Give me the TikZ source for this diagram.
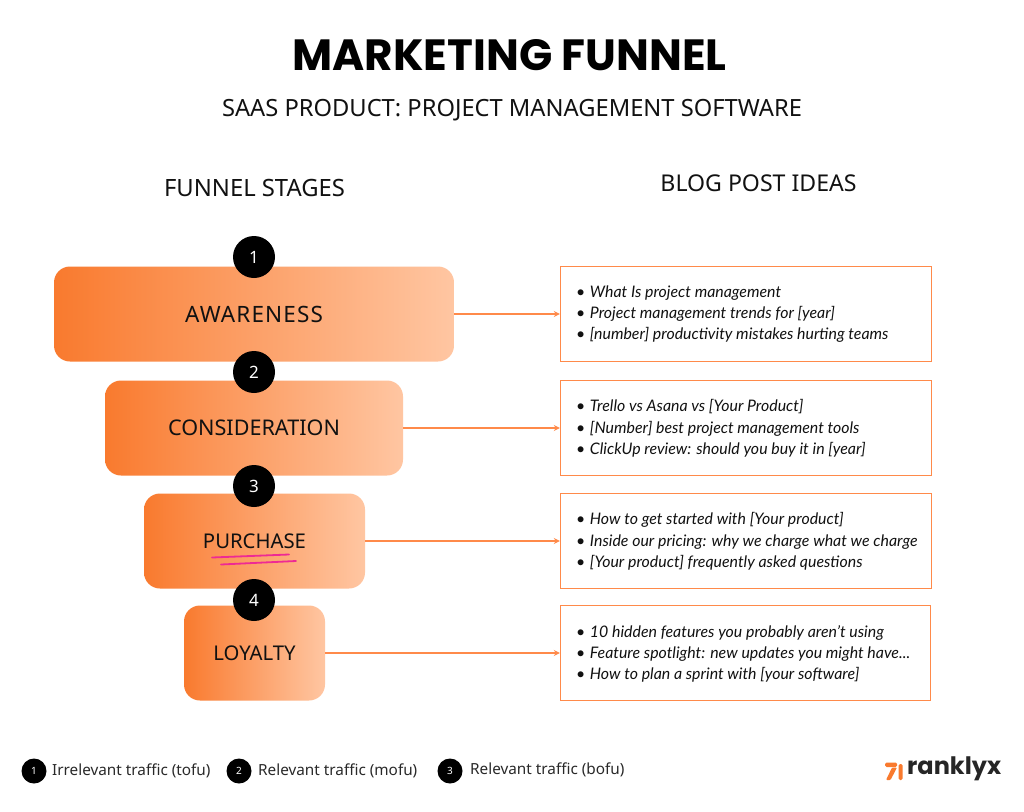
\documentclass[tikz,border=0pt]{standalone}
\usepackage{fontspec}
\setmainfont{Open Sans}
\newfontfamily\titlefont{Poppins}
\newfontfamily\labelfont{Noto Sans}
\newfontfamily\ideafont{Lato}
\usetikzlibrary{arrows.meta}
\definecolor{orA}{HTML}{F97A2E}
\definecolor{orB}{HTML}{FFC6A2}
\definecolor{orL}{HTML}{FF8A4A}
\definecolor{inkk}{HTML}{111111}
\definecolor{pinkk}{HTML}{EE2A94}
\tikzset{
 x=1pt,y=-1pt,
 stage/.style={rounded corners=16pt,left color=orA,right color=orB,draw=none,anchor=center,inner sep=0pt,
   font=\labelfont\fontsize{20.3}{25}\selectfont,text=inkk},
 numc/.style={circle,fill=black,text=white,minimum size=42pt,inner sep=0pt,font=\labelfont\fontsize{17}{20}\selectfont},
 legc/.style={circle,fill=black,text=white,minimum size=25pt,inner sep=0pt,font=\labelfont\fontsize{10}{12}\selectfont},
 legt/.style={anchor=west,inner sep=0pt,font=\labelfont\fontsize{15.3}{18}\selectfont,text=inkk!90},
 idea/.style={draw=orL,line width=1.4pt,fill=white,minimum height=95pt,minimum width=371pt,anchor=center,inner sep=0pt},
 ideat/.style={anchor=west,inner sep=0pt,align=left,font=\ideafont\itshape\fontsize{15.9}{21.3}\selectfont,text=inkk},
 head/.style={inner sep=0pt,font=\labelfont\fontsize{23.8}{28}\selectfont,text=inkk},
 link/.style={draw=orL,line width=1.5pt,-{Stealth[length=6pt,width=6pt]}},
}
\newcommand{\itm}[1]{\textbullet\hspace{4.5pt}#1}
\begin{document}
\begin{tikzpicture}
\useasboundingbox (0,0) rectangle (1024,811);
\fill[white] (0,0) rectangle (1024,811);
\node[inner sep=0pt,font=\titlefont\bfseries\fontsize{43.7}{54}\selectfont,text=black] (title) at (509.5,55) {MARKETING FUNNEL};
\node[head,font=\labelfont\fontsize{23.7}{28}\selectfont] (sub) at (512,110.5) {SAAS PRODUCT: PROJECT MANAGEMENT SOFTWARE};
\node[head] (h1) at (254.5,187.5) {FUNNEL STAGES};
\node[head,font=\labelfont\fontsize{23.1}{28}\selectfont] (h2) at (758.5,183) {BLOG POST IDEAS};

\node[stage,minimum width=400pt,minimum height=95pt,font=\labelfont\addfontfeatures{LetterSpace=5}\fontsize{22.5}{25}\selectfont] (s1) at (254,314) {AWARENESS};
\node[stage,minimum width=298pt,minimum height=95pt,font=\labelfont\fontsize{21.6}{25}\selectfont] (s2) at (254,428) {CONSIDERATION};
\node[stage,minimum width=221pt,minimum height=95pt] (s3) at (254.5,541) {PURCHASE};
\node[stage,minimum width=141pt,minimum height=95pt] (s4) at (254.5,653) {LOYALTY};

\draw[pinkk,line width=1.8pt,line cap=round] (212,557.5) -- (289,554.5);
\draw[pinkk,line width=1.8pt,line cap=round] (221,564.5) -- (296,561);

\node[numc] (n1) at (254,257) {1};
\node[numc] (n2) at (254,372) {2};
\node[numc] (n3) at (254,486) {3};
\node[numc] (n4) at (254,600) {4};

\node[idea] (b1) at (746,314) {};
\node[idea] (b2) at (746,428) {};
\node[idea] (b3) at (746,541) {};
\node[idea,minimum width=370pt] (b4) at (745.5,653) {};

\node[ideat] (t1) at (576,314) {\itm{What Is project management}\\\itm{Project management trends for [year]}\\\itm{[number] productivity mistakes hurting teams}};
\node[ideat] (t2) at (576,428.5) {\itm{Trello vs Asana vs [Your Product]}\\\itm{[Number] best project management tools}\\\itm{ClickUp review: should you buy it in [year]}};
\node[ideat] (t3) at (576,541.5) {\itm{How to get started with [Your product]}\\\itm{Inside our pricing: why we charge what we charge}\\\itm{[Your product] frequently asked questions}};
\node[ideat] (t4) at (576,654) {\itm{10 hidden features you probably aren’t using}\\\itm{Feature spotlight: new updates you might have...}\\\itm{How to plan a sprint with [your software]}};

\draw[link] (s1) -- (b1);
\draw[link] (s2) -- (b2);
\draw[link] (s3) -- (b3);
\draw[link] (s4) -- (b4);

\node[legc] (l1) at (34,771) {1};
\node[legt] (lt1) at (52,770.5) {Irrelevant traffic (tofu)};
\node[legc] (l2) at (239,771) {2};
\node[legt] (lt2) at (258,771) {Relevant traffic (mofu)};
\node[legc] (l3) at (450,771) {3};
\node[legt] (lt3) at (470,770) {Relevant traffic (bofu)};

% logo
\fill[orA,rounded corners=1.5pt] (885,762.5) -- (897,762.5) -- (897,767) -- (885,767) -- cycle;
\fill[orA,rounded corners=1pt] (892,767.5) -- (897,767.5) -- (890.5,780) -- (886,780) -- cycle;
\fill[orA,rounded corners=1.5pt] (898.5,764) -- (902.5,764) -- (902.5,780) -- (898.5,780) -- cycle;
\node[anchor=west,inner sep=0pt,font=\titlefont\bfseries\fontsize{24}{28}\selectfont,text=black!85] (logo) at (907,769) {ranklyx};
\end{tikzpicture}
\end{document}
